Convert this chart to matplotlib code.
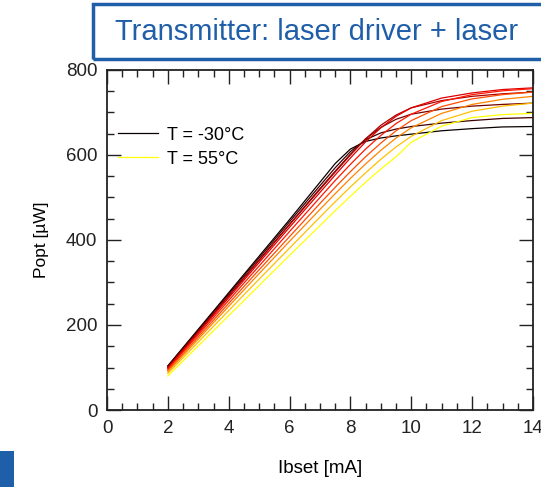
import matplotlib
matplotlib.use("Agg")
import matplotlib.pyplot as plt
from matplotlib.patches import Rectangle
from matplotlib.ticker import MultipleLocator

plt.rcParams['font.family'] = ['Liberation Sans', 'DejaVu Sans']

# bias current set point [mA]
ibset = [2, 3, 4, 5, 6, 7, 7.5, 8, 8.5, 9, 9.5, 10, 11, 12, 13, 14]

# optical power [uW] for each temperature
temps = [-30, -20, -10, 0, 10, 20, 30, 40, 50, 55]
popt = {
    -30: [104, 190, 276, 362, 448, 536, 580, 614, 632, 640, 645, 649, 657, 662, 666, 667],
    -20: [103, 188, 273, 358, 443, 528, 570, 608, 636, 652, 661, 667, 675, 681, 686, 688],
    -10: [101, 185, 269, 353, 437, 521, 562, 602, 638, 665, 684, 696, 708, 715, 719, 722],
    0:   [100, 184, 268, 352, 436, 519, 560, 600, 638, 670, 694, 711, 728, 738, 744, 748],
    10:  [98, 181, 264, 347, 430, 512, 553, 593, 631, 664, 691, 711, 734, 746, 754, 758],
    20:  [96, 177, 258, 339, 420, 500, 540, 578, 614, 646, 674, 696, 726, 742, 751, 756],
    30:  [93, 172, 251, 330, 408, 486, 524, 561, 596, 628, 657, 681, 714, 732, 742, 748],
    40:  [90, 167, 244, 321, 397, 472, 509, 545, 579, 611, 640, 664, 698, 719, 731, 738],
    50:  [86, 160, 234, 308, 381, 454, 490, 525, 558, 590, 619, 644, 681, 703, 715, 722],
    55:  [80, 151, 222, 293, 364, 434, 469, 503, 536, 567, 596, 630, 668, 688, 695, 698],
}
cmap_pos = [0.0, 0.08, 0.16, 0.24, 0.32, 0.40, 0.48, 0.56, 0.65, 0.75]

blue = '#1f5ea8'

fig = plt.figure(figsize=(5.41, 4.87), dpi=100)
ax = fig.add_axes([0.1978, 0.1581, 0.7874, 0.6982])

cmap = plt.get_cmap('hot')
for t, c in zip(temps, cmap_pos):
    label = 'T = %d°C' % t if t in (-30, 55) else None
    ax.plot(ibset, popt[t], color=cmap(c), lw=0.9, label=label)

ax.set_xlim(0, 14)
ax.set_ylim(0, 800)
ax.xaxis.set_major_locator(MultipleLocator(2))
ax.xaxis.set_minor_locator(MultipleLocator(0.5))
ax.yaxis.set_major_locator(MultipleLocator(200))
ax.yaxis.set_minor_locator(MultipleLocator(50))
ax.tick_params(which='both', direction='in', top=True, right=True,
               labelsize=13.5, width=1.0, colors='#222222')
ax.tick_params(which='major', length=10, pad=7)
ax.tick_params(which='minor', length=5)
for s in ax.spines.values():
    s.set_linewidth(1.3)
    s.set_color('#222222')

ax.set_xlabel('Ibset [mA]', fontsize=13.5, labelpad=17)
ax.set_ylabel('Popt [µW]', fontsize=12.5, labelpad=12)

leg = ax.legend(loc='upper left', bbox_to_anchor=(0.0, 0.865), frameon=False,
                fontsize=13, handlelength=2.2, handletextpad=0.5,
                labelspacing=0.38, borderaxespad=0.2)

# title banner
fig.patches.append(Rectangle((93 / 541, 1 - 59 / 487), 0.9, 55 / 487,
                             transform=fig.transFigure, fill=False,
                             edgecolor=blue, linewidth=2.5))
fig.text(115 / 541, 1 - 32 / 487, 'Transmitter: laser driver + laser',
         color=blue, fontsize=21, va='center', ha='left')
fig.patches.append(Rectangle((0, 0), 14 / 541, 36 / 487,
                             transform=fig.transFigure, facecolor=blue,
                             edgecolor='none'))

fig.savefig('out.png', dpi=100)
